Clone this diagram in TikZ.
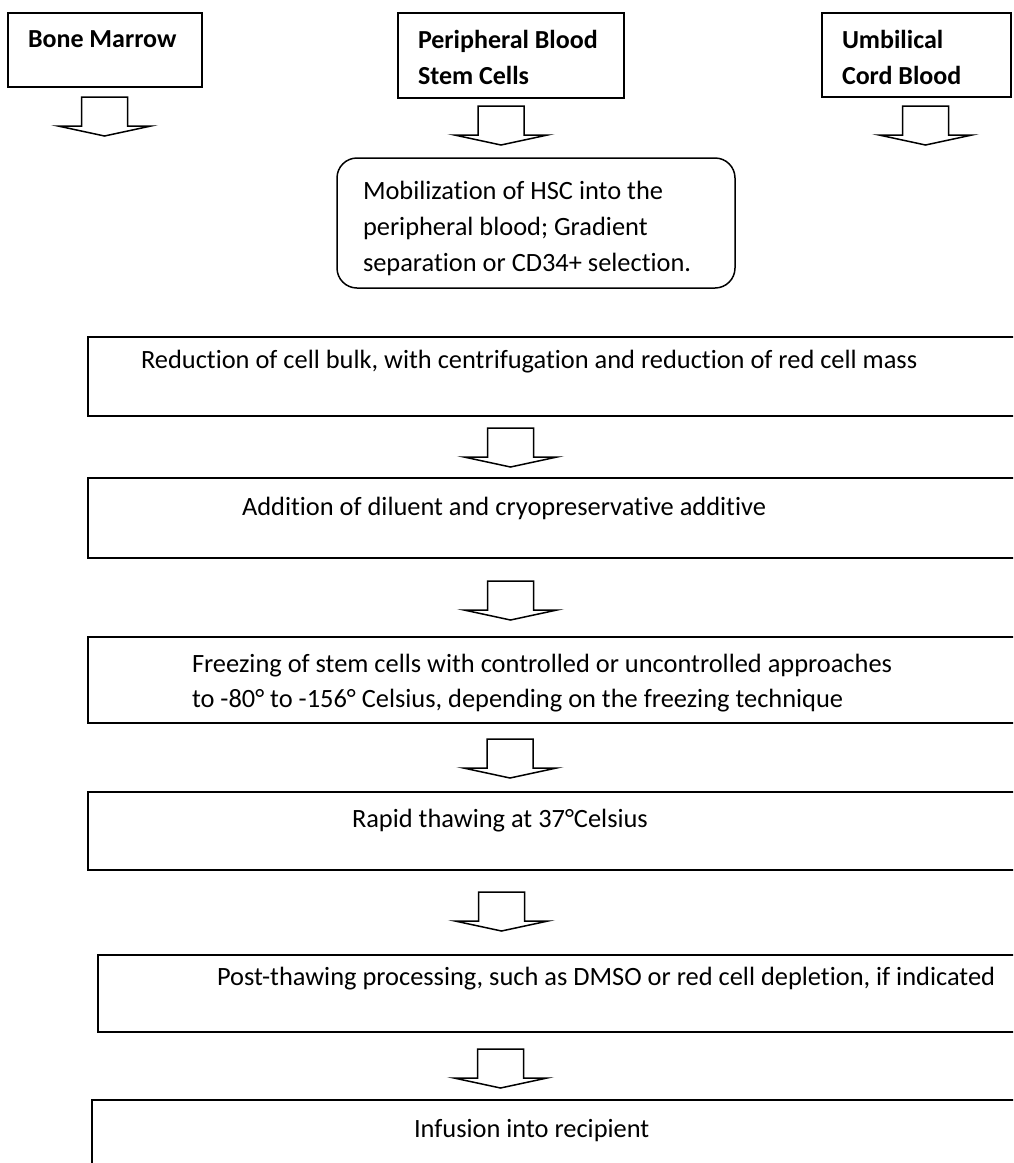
\documentclass[tikz,border=0pt]{standalone}
\usepackage{fontspec}
\setmainfont{Carlito}[Ligatures={NoCommon}]
\begin{document}
\begin{tikzpicture}[x=1pt,y=-1pt,
  box/.style={draw, line width=1.5pt, rectangle, inner sep=0pt, outer sep=0pt, anchor=north west},
  txt/.style={anchor=base west, inner sep=0pt, outer sep=0pt, font=\fontsize{26.4}{30}\selectfont},
  hdr/.style={anchor=base west, inner sep=0pt, outer sep=0pt, font=\fontsize{26}{30}\selectfont\bfseries},
  arrowline/.style={draw, line width=1.5pt, line join=miter, fill=white},
  blockarrow/.pic={\path[arrowline] (-23,0) -- (23,0) -- (23,29) -- (46.5,29) -- (0,39) -- (-46.5,29) -- (-23,29) -- cycle;}]
\useasboundingbox (0,0) rectangle (1013,1163);
\clip (0,0) rectangle (1013,1163);
\fill[white] (0,0) rectangle (1013,1163);
% source boxes
\node[box, minimum width=194pt, minimum height=74pt] (bm) at (8,13) {};
\node[hdr] (bmt) at (28,47) {Bone Marrow};
\node[box, minimum width=226pt, minimum height=85pt] (pb) at (398,13) {};
\node[hdr] (pbt1) at (418,48) {Peripheral Blood};
\node[hdr] (pbt2) at (418,84) {Stem Cells};
\node[box, minimum width=189pt, minimum height=84pt] (ucb) at (822,13) {};
\node[hdr] (ucbt1) at (842,48) {Umbilical};
\node[hdr] (ucbt2) at (842,84) {Cord Blood};
% arrows under the sources
\pic (abm) at (104.5,97) {blockarrow};
\pic (apb) at (501,106) {blockarrow};
\pic (aucb) at (925.5,106) {blockarrow};
% mobilization
\node[box, rounded corners=20pt, minimum width=398pt, minimum height=130pt] (mob) at (337,158) {};
\node[txt] (mobt1) at (363,199) {Mobilization of HSC into the};
\node[txt] (mobt2) at (363,235) {peripheral blood; Gradient};
\node[txt] (mobt3) at (363,271) {separation or CD34+ selection.};
% process chain
\node[box, minimum width=940pt, minimum height=79pt] (red) at (88,337) {};
\node[txt] (redt) at (141,368) {Reduction of cell bulk, with centrifugation and reduction of red cell mass};
\pic (a1) at (510.5,428) {blockarrow};
\node[box, minimum width=940pt, minimum height=80pt] (add) at (88,478) {};
\node[txt] (addt) at (242,515) {Addition of diluent and cryopreservative additive};
\pic (a2) at (510.5,581) {blockarrow};
\node[box, minimum width=940pt, minimum height=86pt] (frz) at (88,637) {};
\node[txt] (frzt1) at (192,672) {Freezing of stem cells with controlled or uncontrolled approaches};
\node[txt] (frzt2) at (192,707) {to -80° to -156° Celsius, depending on the freezing technique};
\pic (a3) at (510,739) {blockarrow};
\node[box, minimum width=940pt, minimum height=78pt] (rap) at (88,792) {};
\node[txt] (rapt) at (352,827) {Rapid thawing at 37°Celsius};
\pic (a4) at (501.5,892) {blockarrow};
\node[box, minimum width=930pt, minimum height=77pt] (post) at (98,955) {};
\node[txt] (postt) at (217,985) {Post-thawing processing, such as DMSO or red cell depletion, if indicated};
\pic (a5) at (500.5,1049) {blockarrow};
\node[box, minimum width=936pt, minimum height=100pt] (inf) at (92,1100) {};
\node[txt] (inft) at (414,1137) {Infusion into recipient};
\end{tikzpicture}
\end{document}
